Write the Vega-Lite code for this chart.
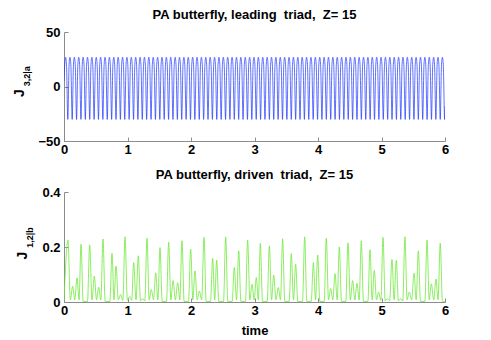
{
"$schema": "https://vega.github.io/schema/vega-lite/v6.json",
"background": "white",
"padding": {"left": 12, "top": 9, "right": 5, "bottom": 2},
"bounds": "flush",
"spacing": 51,
"config": {
  "font": "Liberation Sans",
  "view": {"stroke": null},
  "axis": {"domainColor": "#8c8c8c", "tickColor": "#8c8c8c", "labelColor": "#000000", "labelFont": "Liberation Sans", "labelFontSize": 13, "labelFontWeight": "bold", "labelFlush": false, "titleFont": "Liberation Sans", "titleFontSize": 13, "titleFontWeight": "bold", "titleColor": "#000000", "grid": false, "tickSize": -4, "labelPadding": 6},
  "axisY": {"labelPadding": 8},
  "title": {"font": "Liberation Sans", "fontSize": 13, "fontWeight": "bold", "color": "#000000", "anchor": "middle", "baseline": "alphabetic", "offset": 4}
},
"datasets": {
"a": [
{"t":0,"v":5},{"t":0.011,"v":20},
{"t":0.025,"v":26.8},{"t":0.039,"v":20},{"t":0.060,"v":-30.2},{"t":0.080,"v":20},
{"t":0.094,"v":26.8},{"t":0.108,"v":20},{"t":0.129,"v":-30.2},{"t":0.149,"v":20},
{"t":0.163,"v":26.8},{"t":0.177,"v":20},{"t":0.198,"v":-30.2},{"t":0.218,"v":20},
{"t":0.232,"v":26.8},{"t":0.246,"v":20},{"t":0.267,"v":-30.2},{"t":0.287,"v":20},
{"t":0.301,"v":26.8},{"t":0.315,"v":20},{"t":0.336,"v":-30.2},{"t":0.356,"v":20},
{"t":0.370,"v":26.8},{"t":0.384,"v":20},{"t":0.405,"v":-30.2},{"t":0.425,"v":20},
{"t":0.439,"v":26.8},{"t":0.453,"v":20},{"t":0.474,"v":-30.2},{"t":0.494,"v":20},
{"t":0.508,"v":26.8},{"t":0.522,"v":20},{"t":0.543,"v":-30.2},{"t":0.563,"v":20},
{"t":0.577,"v":26.8},{"t":0.591,"v":20},{"t":0.612,"v":-30.2},{"t":0.632,"v":20},
{"t":0.646,"v":26.8},{"t":0.660,"v":20},{"t":0.681,"v":-30.2},{"t":0.701,"v":20},
{"t":0.715,"v":26.8},{"t":0.729,"v":20},{"t":0.750,"v":-30.2},{"t":0.770,"v":20},
{"t":0.784,"v":26.8},{"t":0.798,"v":20},{"t":0.819,"v":-30.2},{"t":0.839,"v":20},
{"t":0.853,"v":26.8},{"t":0.867,"v":20},{"t":0.888,"v":-30.2},{"t":0.908,"v":20},
{"t":0.922,"v":26.8},{"t":0.936,"v":20},{"t":0.957,"v":-30.2},{"t":0.977,"v":20},
{"t":0.991,"v":26.8},{"t":1.005,"v":20},{"t":1.026,"v":-30.2},{"t":1.046,"v":20},
{"t":1.060,"v":26.8},{"t":1.074,"v":20},{"t":1.095,"v":-30.2},{"t":1.115,"v":20},
{"t":1.129,"v":26.8},{"t":1.143,"v":20},{"t":1.164,"v":-30.2},{"t":1.184,"v":20},
{"t":1.198,"v":26.8},{"t":1.212,"v":20},{"t":1.233,"v":-30.2},{"t":1.253,"v":20},
{"t":1.267,"v":26.8},{"t":1.281,"v":20},{"t":1.302,"v":-30.2},{"t":1.322,"v":20},
{"t":1.336,"v":26.8},{"t":1.350,"v":20},{"t":1.371,"v":-30.2},{"t":1.391,"v":20},
{"t":1.405,"v":26.8},{"t":1.419,"v":20},{"t":1.440,"v":-30.2},{"t":1.460,"v":20},
{"t":1.474,"v":26.8},{"t":1.488,"v":20},{"t":1.509,"v":-30.2},{"t":1.529,"v":20},
{"t":1.543,"v":26.8},{"t":1.557,"v":20},{"t":1.578,"v":-30.2},{"t":1.598,"v":20},
{"t":1.612,"v":26.8},{"t":1.626,"v":20},{"t":1.647,"v":-30.2},{"t":1.667,"v":20},
{"t":1.681,"v":26.8},{"t":1.695,"v":20},{"t":1.716,"v":-30.2},{"t":1.736,"v":20},
{"t":1.750,"v":26.8},{"t":1.764,"v":20},{"t":1.785,"v":-30.2},{"t":1.805,"v":20},
{"t":1.819,"v":26.8},{"t":1.833,"v":20},{"t":1.854,"v":-30.2},{"t":1.874,"v":20},
{"t":1.888,"v":26.8},{"t":1.902,"v":20},{"t":1.923,"v":-30.2},{"t":1.943,"v":20},
{"t":1.957,"v":26.8},{"t":1.971,"v":20},{"t":1.992,"v":-30.2},{"t":2.012,"v":20},
{"t":2.026,"v":26.8},{"t":2.040,"v":20},{"t":2.061,"v":-30.2},{"t":2.081,"v":20},
{"t":2.095,"v":26.8},{"t":2.109,"v":20},{"t":2.130,"v":-30.2},{"t":2.150,"v":20},
{"t":2.164,"v":26.8},{"t":2.178,"v":20},{"t":2.199,"v":-30.2},{"t":2.219,"v":20},
{"t":2.233,"v":26.8},{"t":2.247,"v":20},{"t":2.268,"v":-30.2},{"t":2.288,"v":20},
{"t":2.302,"v":26.8},{"t":2.316,"v":20},{"t":2.337,"v":-30.2},{"t":2.357,"v":20},
{"t":2.371,"v":26.8},{"t":2.385,"v":20},{"t":2.406,"v":-30.2},{"t":2.426,"v":20},
{"t":2.440,"v":26.8},{"t":2.454,"v":20},{"t":2.475,"v":-30.2},{"t":2.495,"v":20},
{"t":2.509,"v":26.8},{"t":2.523,"v":20},{"t":2.544,"v":-30.2},{"t":2.564,"v":20},
{"t":2.578,"v":26.8},{"t":2.592,"v":20},{"t":2.613,"v":-30.2},{"t":2.633,"v":20},
{"t":2.647,"v":26.8},{"t":2.661,"v":20},{"t":2.682,"v":-30.2},{"t":2.702,"v":20},
{"t":2.716,"v":26.8},{"t":2.730,"v":20},{"t":2.751,"v":-30.2},{"t":2.771,"v":20},
{"t":2.785,"v":26.8},{"t":2.799,"v":20},{"t":2.820,"v":-30.2},{"t":2.840,"v":20},
{"t":2.854,"v":26.8},{"t":2.868,"v":20},{"t":2.889,"v":-30.2},{"t":2.909,"v":20},
{"t":2.923,"v":26.8},{"t":2.937,"v":20},{"t":2.958,"v":-30.2},{"t":2.978,"v":20},
{"t":2.992,"v":26.8},{"t":3.006,"v":20},{"t":3.027,"v":-30.2},{"t":3.047,"v":20},
{"t":3.061,"v":26.8},{"t":3.075,"v":20},{"t":3.096,"v":-30.2},{"t":3.116,"v":20},
{"t":3.130,"v":26.8},{"t":3.144,"v":20},{"t":3.165,"v":-30.2},{"t":3.185,"v":20},
{"t":3.199,"v":26.8},{"t":3.213,"v":20},{"t":3.234,"v":-30.2},{"t":3.254,"v":20},
{"t":3.268,"v":26.8},{"t":3.282,"v":20},{"t":3.303,"v":-30.2},{"t":3.323,"v":20},
{"t":3.337,"v":26.8},{"t":3.351,"v":20},{"t":3.372,"v":-30.2},{"t":3.392,"v":20},
{"t":3.406,"v":26.8},{"t":3.420,"v":20},{"t":3.441,"v":-30.2},{"t":3.461,"v":20},
{"t":3.475,"v":26.8},{"t":3.489,"v":20},{"t":3.510,"v":-30.2},{"t":3.530,"v":20},
{"t":3.544,"v":26.8},{"t":3.558,"v":20},{"t":3.579,"v":-30.2},{"t":3.599,"v":20},
{"t":3.613,"v":26.8},{"t":3.627,"v":20},{"t":3.648,"v":-30.2},{"t":3.668,"v":20},
{"t":3.682,"v":26.8},{"t":3.696,"v":20},{"t":3.717,"v":-30.2},{"t":3.737,"v":20},
{"t":3.751,"v":26.8},{"t":3.765,"v":20},{"t":3.786,"v":-30.2},{"t":3.806,"v":20},
{"t":3.820,"v":26.8},{"t":3.834,"v":20},{"t":3.855,"v":-30.2},{"t":3.875,"v":20},
{"t":3.889,"v":26.8},{"t":3.903,"v":20},{"t":3.924,"v":-30.2},{"t":3.944,"v":20},
{"t":3.958,"v":26.8},{"t":3.972,"v":20},{"t":3.993,"v":-30.2},{"t":4.013,"v":20},
{"t":4.027,"v":26.8},{"t":4.041,"v":20},{"t":4.062,"v":-30.2},{"t":4.082,"v":20},
{"t":4.096,"v":26.8},{"t":4.110,"v":20},{"t":4.131,"v":-30.2},{"t":4.151,"v":20},
{"t":4.165,"v":26.8},{"t":4.179,"v":20},{"t":4.200,"v":-30.2},{"t":4.220,"v":20},
{"t":4.234,"v":26.8},{"t":4.248,"v":20},{"t":4.269,"v":-30.2},{"t":4.289,"v":20},
{"t":4.303,"v":26.8},{"t":4.317,"v":20},{"t":4.338,"v":-30.2},{"t":4.358,"v":20},
{"t":4.372,"v":26.8},{"t":4.386,"v":20},{"t":4.407,"v":-30.2},{"t":4.427,"v":20},
{"t":4.441,"v":26.8},{"t":4.455,"v":20},{"t":4.476,"v":-30.2},{"t":4.496,"v":20},
{"t":4.510,"v":26.8},{"t":4.524,"v":20},{"t":4.545,"v":-30.2},{"t":4.565,"v":20},
{"t":4.579,"v":26.8},{"t":4.593,"v":20},{"t":4.614,"v":-30.2},{"t":4.634,"v":20},
{"t":4.648,"v":26.8},{"t":4.662,"v":20},{"t":4.683,"v":-30.2},{"t":4.703,"v":20},
{"t":4.717,"v":26.8},{"t":4.731,"v":20},{"t":4.752,"v":-30.2},{"t":4.772,"v":20},
{"t":4.786,"v":26.8},{"t":4.800,"v":20},{"t":4.821,"v":-30.2},{"t":4.841,"v":20},
{"t":4.855,"v":26.8},{"t":4.869,"v":20},{"t":4.890,"v":-30.2},{"t":4.910,"v":20},
{"t":4.924,"v":26.8},{"t":4.938,"v":20},{"t":4.959,"v":-30.2},{"t":4.979,"v":20},
{"t":4.993,"v":26.8},{"t":5.007,"v":20},{"t":5.028,"v":-30.2},{"t":5.048,"v":20},
{"t":5.062,"v":26.8},{"t":5.076,"v":20},{"t":5.097,"v":-30.2},{"t":5.117,"v":20},
{"t":5.131,"v":26.8},{"t":5.145,"v":20},{"t":5.166,"v":-30.2},{"t":5.186,"v":20},
{"t":5.200,"v":26.8},{"t":5.214,"v":20},{"t":5.235,"v":-30.2},{"t":5.255,"v":20},
{"t":5.269,"v":26.8},{"t":5.283,"v":20},{"t":5.304,"v":-30.2},{"t":5.324,"v":20},
{"t":5.338,"v":26.8},{"t":5.352,"v":20},{"t":5.373,"v":-30.2},{"t":5.393,"v":20},
{"t":5.407,"v":26.8},{"t":5.421,"v":20},{"t":5.442,"v":-30.2},{"t":5.462,"v":20},
{"t":5.476,"v":26.8},{"t":5.490,"v":20},{"t":5.511,"v":-30.2},{"t":5.531,"v":20},
{"t":5.545,"v":26.8},{"t":5.559,"v":20},{"t":5.580,"v":-30.2},{"t":5.600,"v":20},
{"t":5.614,"v":26.8},{"t":5.628,"v":20},{"t":5.649,"v":-30.2},{"t":5.669,"v":20},
{"t":5.683,"v":26.8},{"t":5.697,"v":20},{"t":5.718,"v":-30.2},{"t":5.738,"v":20},
{"t":5.752,"v":26.8},{"t":5.766,"v":20},{"t":5.787,"v":-30.2},{"t":5.807,"v":20},
{"t":5.821,"v":26.8},{"t":5.835,"v":20},{"t":5.856,"v":-30.2},{"t":5.876,"v":20},
{"t":5.890,"v":26.8},{"t":5.904,"v":20},{"t":5.925,"v":-30.2},{"t":5.945,"v":20},
{"t":5.959,"v":26.8},{"t":5.973,"v":20},{"t":5.994,"v":-30.2},{"t":6.0,"v":-18}
],
"b": [
{"t":0,"v":0.005},{"t":0.063,"v":0.225},{"t":0.100,"v":0.008},{"t":0.136,"v":0.057},{"t":0.170,"v":0.008},{"t":0.205,"v":0.088},{"t":0.237,"v":0.008},{"t":0.268,"v":0.210},
{"t":0.302,"v":0.002},{"t":0.370,"v":0.002},
{"t":0.404,"v":0.208},{"t":0.441,"v":0.008},{"t":0.478,"v":0.094},{"t":0.512,"v":0.008},{"t":0.546,"v":0.054},{"t":0.580,"v":0.008},{"t":0.614,"v":0.229},
{"t":0.648,"v":0.002},{"t":0.722,"v":0.002},
{"t":0.756,"v":0.177},{"t":0.788,"v":0.008},{"t":0.819,"v":0.131},{"t":0.856,"v":0.008},{"t":0.892,"v":0.027},{"t":0.927,"v":0.006},{"t":0.961,"v":0.237},{"t":0.998,"v":0.006},{"t":1.034,"v":0.020},{"t":1.066,"v":0.006},{"t":1.097,"v":0.143},{"t":1.134,"v":0.008},{"t":1.170,"v":0.168},{"t":1.205,"v":0.004},{"t":1.239,"v":0.012},{"t":1.273,"v":0.004},{"t":1.307,"v":0.232},{"t":1.341,"v":0.008},{"t":1.375,"v":0.045},{"t":1.410,"v":0.008},{"t":1.444,"v":0.106},{"t":1.478,"v":0.008},{"t":1.512,"v":0.198},
{"t":1.546,"v":0.002},{"t":1.614,"v":0.002},
{"t":1.648,"v":0.217},{"t":1.683,"v":0.008},{"t":1.717,"v":0.078},{"t":1.754,"v":0.008},{"t":1.790,"v":0.070},{"t":1.824,"v":0.008},{"t":1.858,"v":0.223},
{"t":1.892,"v":0.002},{"t":1.961,"v":0.002},
{"t":1.995,"v":0.192},{"t":2.029,"v":0.008},{"t":2.063,"v":0.113},{"t":2.097,"v":0.008},{"t":2.131,"v":0.040},{"t":2.168,"v":0.008},{"t":2.205,"v":0.235},
{"t":2.239,"v":0.002},{"t":2.307,"v":0.002},
{"t":2.341,"v":0.159},{"t":2.373,"v":0.008},{"t":2.404,"v":0.152},
{"t":2.438,"v":0.002},{"t":2.512,"v":0.002},
{"t":2.546,"v":0.237},
{"t":2.580,"v":0.002},{"t":2.648,"v":0.002},
{"t":2.682,"v":0.125},{"t":2.717,"v":0.008},{"t":2.752,"v":0.186},
{"t":2.786,"v":0.002},{"t":2.858,"v":0.002},
{"t":2.892,"v":0.225},{"t":2.927,"v":0.008},{"t":2.961,"v":0.064},{"t":2.995,"v":0.008},{"t":3.029,"v":0.089},{"t":3.061,"v":0.008},{"t":3.092,"v":0.213},
{"t":3.126,"v":0.002},{"t":3.200,"v":0.002},
{"t":3.234,"v":0.204},{"t":3.268,"v":0.008},{"t":3.302,"v":0.098},{"t":3.339,"v":0.008},{"t":3.375,"v":0.053},{"t":3.409,"v":0.008},{"t":3.443,"v":0.230},
{"t":3.477,"v":0.002},{"t":3.546,"v":0.002},
{"t":3.580,"v":0.176},{"t":3.614,"v":0.008},{"t":3.648,"v":0.137},
{"t":3.682,"v":0.002},{"t":3.756,"v":0.002},
{"t":3.790,"v":0.237},
{"t":3.824,"v":0.002},{"t":3.893,"v":0.002},
{"t":3.927,"v":0.143},{"t":3.961,"v":0.008},{"t":3.995,"v":0.171},
{"t":4.029,"v":0.002},{"t":4.097,"v":0.002},
{"t":4.131,"v":0.232},{"t":4.165,"v":0.008},{"t":4.199,"v":0.049},{"t":4.234,"v":0.008},{"t":4.268,"v":0.103},{"t":4.302,"v":0.008},{"t":4.336,"v":0.200},
{"t":4.370,"v":0.002},{"t":4.438,"v":0.002},
{"t":4.472,"v":0.215},{"t":4.509,"v":0.008},{"t":4.546,"v":0.078},{"t":4.580,"v":0.008},{"t":4.614,"v":0.068},{"t":4.648,"v":0.008},{"t":4.682,"v":0.223},
{"t":4.716,"v":0.002},{"t":4.785,"v":0.002},
{"t":4.819,"v":0.190},{"t":4.853,"v":0.008},{"t":4.887,"v":0.115},{"t":4.921,"v":0.008},{"t":4.955,"v":0.036},{"t":4.990,"v":0.006},{"t":5.024,"v":0.235},{"t":5.058,"v":0.004},{"t":5.092,"v":0.012},{"t":5.128,"v":0.004},{"t":5.165,"v":0.155},{"t":5.199,"v":0.008},{"t":5.233,"v":0.152},{"t":5.266,"v":0.004},{"t":5.300,"v":0.012},{"t":5.335,"v":0.004},{"t":5.369,"v":0.237},{"t":5.403,"v":0.008},{"t":5.438,"v":0.036},{"t":5.475,"v":0.008},{"t":5.512,"v":0.105},{"t":5.546,"v":0.008},{"t":5.580,"v":0.186},
{"t":5.614,"v":0.002},{"t":5.683,"v":0.002},
{"t":5.717,"v":0.225},{"t":5.751,"v":0.008},{"t":5.785,"v":0.066},{"t":5.822,"v":0.008},{"t":5.858,"v":0.083},{"t":5.891,"v":0.008},{"t":5.925,"v":0.214},{"t":5.960,"v":0.003},{"t":6.0,"v":0.001}
]
},
"vconcat": [
{
 "width": 381, "height": 109,
 "title": "PA butterfly, leading\u00a0 triad,\u00a0 Z= 15",
 "layer": [
  {"data": {"name": "a"},
   "mark": {"type": "line", "color": "#1a33ff", "strokeWidth": 0.7, "interpolate": "monotone", "clip": true},
   "encoding": {
     "x": {"field": "t", "type": "quantitative", "scale": {"domain": [0, 6], "nice": false}, "axis": {"values": [0,1,2,3,4,5,6], "format": "d", "title": null}},
     "y": {"field": "v", "type": "quantitative", "scale": {"domain": [-50, 50], "nice": false}, "axis": {"values": [-50,0,50], "title": null}}
   }},
  {"data": {"values": [{}]},
   "mark": {"type": "text", "text": "J", "angle": 270, "fontSize": 14, "fontWeight": "bold", "font": "Liberation Sans", "align": "center", "baseline": "middle", "color": "#000000"},
   "encoding": {"x": {"datum": -0.693, "type": "quantitative"}, "y": {"datum": -6.1, "type": "quantitative"}}},
  {"data": {"values": [{}]},
   "mark": {"type": "text", "text": "3,2|a", "angle": 270, "fontSize": 9, "fontWeight": "bold", "font": "Liberation Sans", "align": "center", "baseline": "middle", "color": "#000000"},
   "encoding": {"x": {"datum": -0.575, "type": "quantitative"}, "y": {"datum": 9.4, "type": "quantitative"}}}
 ]
},
{
 "width": 381, "height": 110,
 "title": "PA butterfly, driven\u00a0 triad,\u00a0 Z= 15",
 "layer": [
  {"data": {"name": "b"},
   "mark": {"type": "line", "color": "#6fe83a", "strokeWidth": 0.8, "interpolate": "monotone", "clip": true},
   "encoding": {
     "x": {"field": "t", "type": "quantitative", "scale": {"domain": [0, 6], "nice": false}, "axis": {"values": [0,1,2,3,4,5,6], "format": "d", "title": "time", "titlePadding": 7}},
     "y": {"field": "v", "type": "quantitative", "scale": {"domain": [0, 0.4], "nice": false}, "axis": {"values": [0,0.2,0.4], "format": ".1~f", "title": null}}
   }},
  {"data": {"values": [{}]},
   "mark": {"type": "text", "text": "J", "angle": 270, "fontSize": 14, "fontWeight": "bold", "font": "Liberation Sans", "align": "center", "baseline": "middle", "color": "#000000"},
   "encoding": {"x": {"datum": -0.649, "type": "quantitative"}, "y": {"datum": 0.169, "type": "quantitative"}}},
  {"data": {"values": [{}]},
   "mark": {"type": "text", "text": "1,2|b", "angle": 270, "fontSize": 9, "fontWeight": "bold", "font": "Liberation Sans", "align": "center", "baseline": "middle", "color": "#000000"},
   "encoding": {"x": {"datum": -0.543, "type": "quantitative"}, "y": {"datum": 0.2345, "type": "quantitative"}}}
 ]
}
]
}
